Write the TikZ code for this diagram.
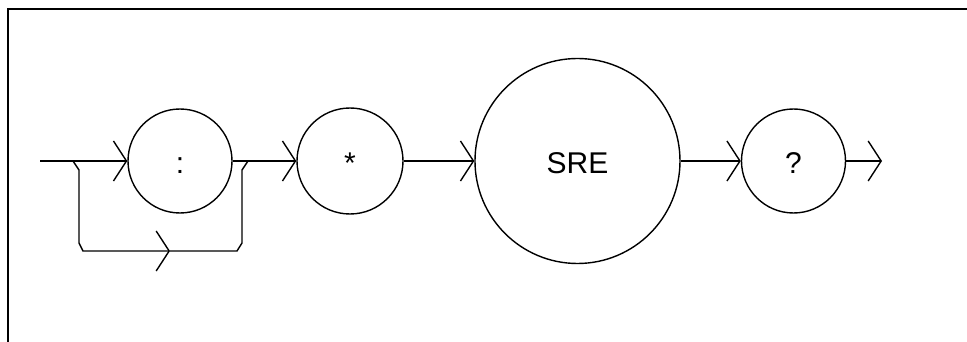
\documentclass[tikz,border=0pt]{standalone}
\usepackage{fontspec}
\setmainfont{Liberation Sans}
\usetikzlibrary{arrows.meta}
\begin{document}
\begin{tikzpicture}[x=1pt,y=-1pt,
  line width=1.4pt,
  bubble/.style={draw,circle,inner sep=0pt},
  lbl/.style={anchor=base,inner sep=0pt,font=\fontsize{30}{36}\selectfont},
  flow/.style={-{Straight Barb[length=13pt,width=40pt,line width=1.4pt]}},
  plain/.style={line join=miter}]
\useasboundingbox (0,0) rectangle (967,342);
% frame
\draw[line width=1.8pt] (8,342) -- (8,9) -- (967,9);
% bubbles
\node[bubble,minimum size=104pt] (c1) at (180,161) {};
\node[bubble,minimum size=106pt] (c2) at (350,161) {};
\node[bubble,minimum size=205pt] (c3) at (577.5,161) {};
\node[bubble,minimum size=104pt] (c4) at (793.5,161) {};
\node[lbl] (t1) at ([yshift=-13pt]c1.center) {:};
\node[lbl] (t2) at ([yshift=-13pt]c2.center) {*};
\node[lbl] (t3) at ([yshift=-13pt]c3.center) {SRE};
\node[lbl] (t4) at ([yshift=-13pt]c4.center) {?};
% coordinates
\coordinate (start) at (40,161);
\coordinate (bl) at (73,161);
\coordinate (br) at (248,161);
\coordinate (mid) at (170,251);
\coordinate (finish) at (882,161);
% main line
\draw[flow] (start) -- (c1);
\draw[flow] (c1) -- (c2);
\draw[flow] (c2) -- (c3);
\draw[flow] (c3) -- (c4);
\draw[flow] (c4) -- (finish);
% bypass
\draw[flow] (bl) -- (79,170) -- (79,243) -- (83,251) -- (mid);
\draw (mid) -- (237,251) -- (242,243) -- (242,170) -- (br);
\end{tikzpicture}
\end{document}
